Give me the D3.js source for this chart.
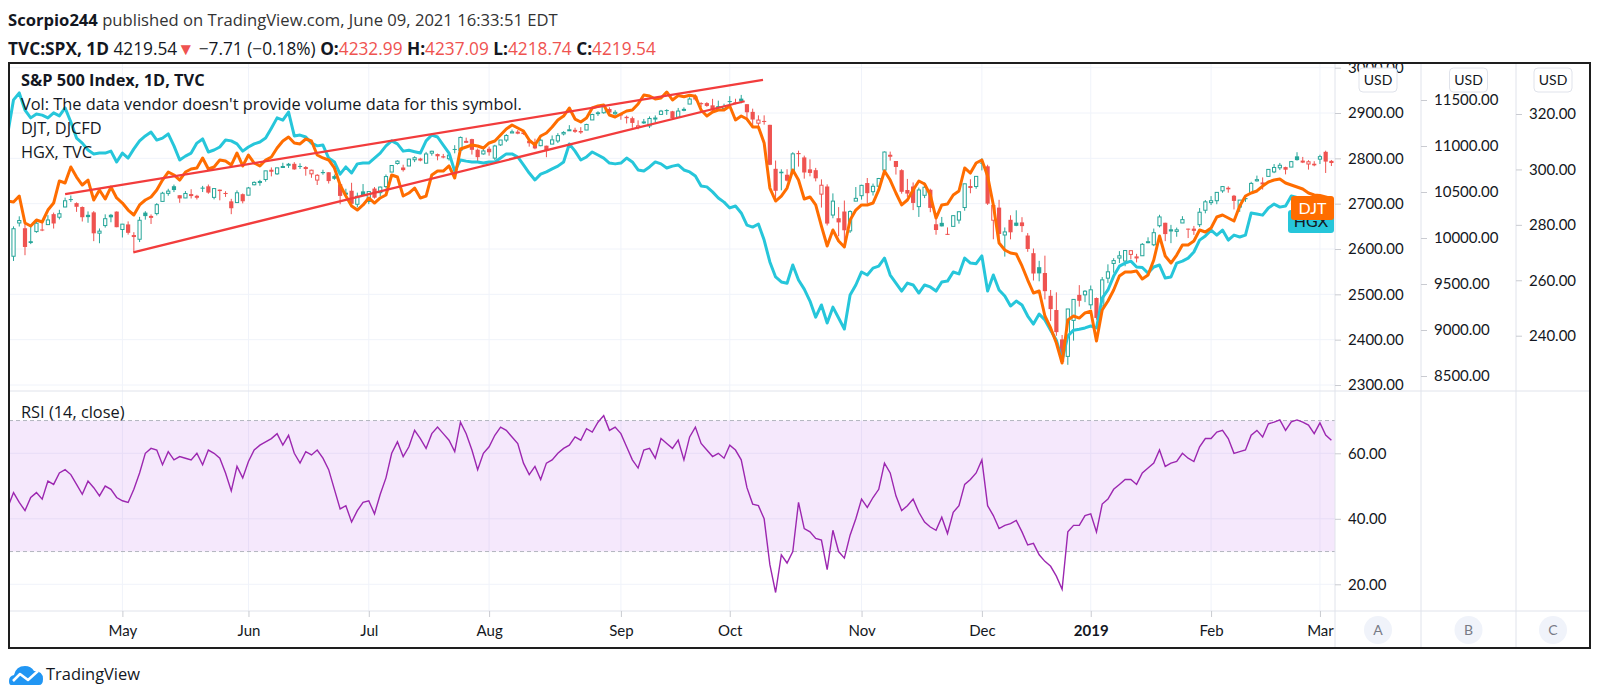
<!DOCTYPE html>
<html>
<head>
<meta charset="utf-8">
<script src="https://cdn.jsdelivr.net/npm/d3@7"></script>
<style>
	html, body { margin: 0; padding: 0; background: #fff; }
	svg { display: block; font-family: Lato, 'Open Sans', sans-serif; }
</style>
</head>
<body>
<svg id="chart" width="1600" height="699"></svg>
<script>
// trading calendar: Apr 3 2018 .. Mar 5 2019, weekdays minus market holidays
const firstDay = '2018-04-03';
const lastDay = '2019-03-05';
const holidays = ['2018-05-28', '2018-07-04', '2018-09-03', '2018-11-22', '2018-12-05', '2018-12-25', '2019-01-01', '2019-01-21', '2019-02-18'];

// S&P 500 daily candles (one value per trading day)
const spxOpen = [
	2592.2,2584.0,2657.4,2645.8,2617.2,2638.4,2643.0,2653.8,2676.9,2670.1,2692.7,2710.1,2701.2,2692.6,2675.4,2680.8,2634.9,2651.7,2675.5,2682.5,
	2643.0,2654.2,2628.1,2621.5,2680.3,2670.3,2678.1,2705.0,2722.7,2738.5,2718.6,2712.6,2719.7,2717.4,2735.4,2738.3,2713.9,2730.9,2723.6,2705.1,2702.4,2720.9,
	2718.7,2741.7,2748.5,2753.3,2774.8,2765.8,2780.2,2785.6,2787.9,2783.2,2777.8,2765.8,2752.0,2769.7,2769.3,2760.8,2742.9,2722.1,2728.5,2698.7,2727.1,
	2704.9,2733.3,2724.2,2737.7,2769.7,2788.6,2779.8,2783.1,2796.9,2797.4,2789.3,2811.4,2809.4,2804.6,2799.2,2820.7,2817.7,2835.5,2842.4,2819.0,2809.7,
	2821.2,2800.5,2829.6,2840.3,2855.9,2856.8,2857.2,2838.9,2835.5,2827.9,2827.9,2831.4,2838.3,2853.9,2861.5,2860.0,2860.3,2862.4,2884.7,2901.5,2900.6,2908.9,2898.4,
	2896.9,2891.6,2888.6,2868.3,2881.4,2871.6,2888.3,2896.9,2906.4,2903.8,2890.7,2906.6,2919.7,2936.8,2921.8,2921.8,2916.9,2911.7,2910.0,
	2926.3,2923.8,2931.7,2919.4,2902.5,2877.5,2882.5,2873.9,2776.9,2770.5,2763.8,2767.1,2811.7,2802.0,2775.7,2773.9,2721.0,2737.9,2674.9,2667.9,2682.7,2640.0,2705.6,
	2717.6,2745.5,2726.4,2738.4,2774.1,2806.4,2794.1,2773.9,2730.1,2737.9,2693.5,2718.5,2730.7,2654.6,2657.7,2633.4,2649.9,2663.8,2691.5,2736.8,2737.8,
	2790.5,2782.4,2663.5,2691.3,2630.9,2664.4,2658.2,2658.7,2629.7,2590.8,2559.9,2547.1,2496.8,2465.4,2400.6,2363.1,2442.5,2498.8,2498.9,
	2476.9,2491.9,2474.3,2535.6,2568.1,2580.0,2573.5,2588.1,2580.3,2585.1,2614.8,2609.3,2651.3,2657.9,2643.5,2638.8,2657.4,2644.9,2644.9,2653.6,2685.5,
	2702.3,2706.5,2728.3,2735.1,2717.5,2692.4,2712.4,2722.6,2750.3,2743.5,2760.2,2770.0,2779.1,2780.7,2780.7,2804.4,2792.4,2787.5,2788.1,
	2798.2,2814.4,2794.4
];
const spxHigh = [
	2619.1,2649.9,2672.1,2656.9,2653.6,2665.5,2661.4,2674.7,2680.3,2686.5,2713.3,2718.0,2702.8,2693.9,2682.9,2683.6,2645.3,2676.5,2677.4,2682.9,
	2655.3,2660.9,2637.1,2670.9,2683.4,2676.3,2701.3,2726.1,2732.9,2742.1,2718.6,2727.8,2731.9,2719.5,2739.2,2742.2,2733.3,2731.0,2727.4,2710.7,2729.3,2722.5,
	2736.9,2749.2,2752.6,2772.4,2779.9,2779.4,2790.2,2789.8,2791.5,2789.1,2782.8,2774.9,2765.1,2774.9,2769.3,2764.2,2742.9,2732.9,2746.1,2724.3,2743.3,
	2727.3,2736.6,2737.8,2764.4,2784.6,2795.6,2785.9,2799.2,2804.5,2801.2,2814.2,2816.8,2810.5,2809.7,2808.6,2829.0,2848.0,2845.6,2843.2,2821.7,2824.5,
	2825.8,2829.9,2840.4,2853.3,2863.4,2862.4,2862.5,2842.2,2843.4,2843.1,2827.9,2850.5,2855.6,2859.8,2873.2,2867.5,2868.8,2876.2,2898.3,2903.8,2916.5,2912.5,2906.3,
	2900.2,2894.2,2892.1,2883.8,2886.9,2892.5,2894.7,2906.8,2908.3,2904.7,2911.2,2912.4,2934.8,2940.9,2923.8,2923.9,2931.2,2927.2,2920.5,
	2937.1,2931.4,2939.9,2919.8,2909.6,2894.8,2894.8,2874.0,2795.1,2775.8,2775.9,2813.5,2816.9,2806.0,2797.8,2778.9,2753.6,2742.6,2722.7,2692.4,2706.9,2685.4,2736.7,
	2741.7,2756.6,2744.3,2756.8,2815.2,2814.8,2794.1,2775.9,2754.6,2746.8,2735.4,2746.8,2733.2,2669.4,2670.7,2647.6,2674.4,2682.5,2744.0,2753.8,2760.9,
	2800.2,2785.9,2696.1,2708.5,2647.5,2674.4,2685.4,2670.2,2635.1,2601.1,2573.9,2585.3,2509.6,2504.4,2410.3,2467.8,2489.1,2520.3,2509.2,
	2519.5,2493.1,2538.1,2566.2,2579.8,2595.3,2597.8,2596.3,2589.3,2613.1,2625.8,2645.1,2675.5,2657.9,2653.2,2647.2,2672.4,2644.9,2650.9,2690.4,2708.0,
	2716.7,2725.0,2739.0,2738.1,2719.3,2708.1,2718.1,2748.2,2761.9,2757.9,2775.7,2787.3,2789.9,2781.6,2794.2,2813.5,2803.1,2795.8,2793.7,
	2808.0,2816.9,2796.4
];
const spxLow = [
	2573.3,2573.6,2649.6,2586.3,2610.8,2635.8,2639.3,2653.8,2645.1,2665.2,2692.1,2703.6,2681.9,2660.6,2657.9,2617.3,2612.7,2647.2,2659.0,2648.0,
	2625.4,2631.7,2594.6,2615.3,2664.7,2655.2,2674.1,2704.5,2717.5,2725.5,2701.9,2712.2,2711.4,2709.2,2725.7,2721.9,2709.5,2707.4,2714.9,2676.8,2702.4,2700.7,
	2718.7,2740.5,2739.5,2748.5,2760.2,2763.6,2779.9,2778.8,2774.7,2776.5,2761.7,2757.1,2741.2,2763.9,2744.4,2752.7,2698.7,2715.6,2699.4,2691.9,2718.0,
	2698.9,2711.2,2716.0,2733.5,2769.7,2786.2,2770.8,2783.1,2791.7,2793.4,2789.2,2805.9,2795.6,2800.0,2795.1,2811.1,2817.0,2833.7,2808.3,2791.5,2808.1,
	2805.9,2796.3,2827.4,2835.9,2855.9,2853.1,2851.9,2825.8,2819.9,2826.6,2802.5,2831.4,2833.7,2850.6,2861.3,2856.1,2854.0,2862.4,2884.7,2893.5,2898.4,2895.2,2895.8,
	2885.1,2876.9,2867.3,2864.1,2875.9,2866.8,2879.2,2896.4,2895.8,2886.2,2890.4,2903.8,2919.7,2927.1,2912.6,2913.7,2903.3,2909.3,2907.5,
	2917.9,2919.4,2921.4,2883.9,2869.3,2862.0,2874.3,2784.9,2710.5,2729.4,2749.0,2766.9,2781.8,2755.2,2760.3,2749.2,2691.4,2651.9,2667.8,2628.2,2603.5,2635.3,2705.6,
	2708.9,2700.4,2717.9,2737.1,2774.1,2794.9,2764.2,2722.0,2714.9,2685.8,2670.7,2712.2,2681.1,2631.5,2649.8,2631.1,2649.9,2655.9,2684.4,2722.9,2732.8,
	2773.4,2697.2,2621.5,2623.1,2583.2,2621.3,2650.3,2637.3,2593.8,2530.5,2528.7,2488.9,2441.2,2408.6,2346.6,2344.5,2397.9,2472.9,2482.8,
	2467.5,2443.9,2474.3,2524.6,2547.6,2568.9,2562.0,2577.4,2570.4,2585.1,2612.7,2606.4,2647.6,2617.3,2612.9,2627.0,2657.3,2624.1,2631.1,2648.3,2678.7,
	2696.9,2698.8,2724.0,2724.2,2687.3,2681.8,2703.9,2722.6,2748.6,2731.2,2760.2,2767.3,2774.1,2764.6,2780.7,2795.0,2789.5,2775.1,2782.5,
	2787.4,2767.7,2783.0
];
const spxClose = [
	2614.5,2644.7,2662.8,2604.5,2613.2,2656.9,2642.2,2664.0,2656.3,2677.8,2706.4,2708.6,2693.1,2670.1,2670.3,2634.6,2639.4,2666.9,2669.9,2648.1,
	2654.8,2635.7,2629.7,2663.4,2672.6,2671.9,2697.8,2723.1,2727.7,2730.1,2711.5,2722.5,2720.1,2713.0,2733.0,2724.4,2733.3,2727.8,2721.3,2689.9,2724.0,2705.3,
	2734.6,2746.9,2748.8,2772.4,2770.4,2779.0,2782.0,2786.9,2775.6,2782.5,2779.7,2773.8,2762.6,2767.3,2749.8,2754.9,2717.1,2723.1,2699.6,2716.3,2718.4,
	2726.7,2713.2,2736.6,2759.8,2784.2,2793.8,2774.0,2798.3,2801.3,2798.4,2809.6,2815.6,2804.5,2801.8,2807.0,2820.4,2846.1,2837.4,2818.8,2802.6,2816.3,
	2813.4,2827.2,2840.4,2850.4,2858.5,2857.7,2853.6,2833.3,2821.9,2840.0,2818.4,2840.7,2850.1,2857.1,2863.0,2861.8,2857.0,2874.7,2896.7,2897.5,2914.0,2901.1,2901.5,
	2896.7,2888.6,2878.1,2871.7,2877.1,2887.9,2888.9,2904.2,2905.0,2888.8,2904.3,2908.0,2930.8,2929.7,2919.4,2915.6,2906.0,2914.0,2914.0,
	2924.6,2923.4,2925.5,2901.6,2885.6,2884.4,2880.3,2785.7,2728.4,2767.1,2750.8,2809.9,2809.2,2768.8,2767.8,2755.9,2740.7,2656.1,2705.6,2658.7,2641.3,2682.6,2711.7,
	2740.4,2723.1,2738.3,2755.5,2813.9,2806.8,2781.0,2726.2,2722.2,2701.6,2730.2,2736.3,2690.7,2641.9,2649.9,2632.6,2673.5,2682.2,2743.8,2737.8,2760.2,
	2790.4,2700.1,2696.0,2633.1,2637.7,2636.8,2651.1,2650.5,2600.0,2545.9,2546.2,2507.0,2467.4,2416.6,2351.1,2467.7,2488.8,2485.7,2506.9,
	2510.0,2447.9,2531.9,2549.7,2574.4,2585.0,2596.6,2596.3,2582.6,2610.3,2616.1,2636.0,2670.7,2632.9,2638.7,2642.3,2664.8,2643.9,2640.0,2681.1,2704.1,
	2706.5,2724.9,2737.7,2731.6,2706.1,2707.9,2709.8,2744.7,2753.0,2745.7,2775.6,2779.8,2784.7,2774.9,2792.7,2796.1,2793.9,2792.4,2784.5,
	2803.7,2792.8,2789.7
];

// Dow Jones Transportation (DJT) compare line
const djtValues = [
	10402,10391,10456,10163,10130,10196,10174,10304,10380,10620,
	10598,10772,10663,10576,10630,10413,10522,10424,10554,10435,
	10380,10304,10250,10359,10413,10446,10522,10630,10717,10685,
	10630,10717,10750,10761,10870,10750,10772,10848,10837,10793,
	10924,10783,10902,10815,10783,10848,10880,10978,11054,11098,
	11033,11022,11076,11054,10902,10870,10848,10761,10576,10456,
	10348,10304,10359,10435,10380,10435,10467,10685,10663,10456,
	10489,10543,10435,10456,10685,10728,10728,10783,10652,10967,
	10989,11011,11000,10978,11033,11054,11120,11185,11228,11196,
	11163,11065,11011,11109,11141,11207,11283,11326,11413,11293,
	11261,11304,11413,11435,11446,11337,11315,11348,11380,11391,
	11457,11554,11543,11511,11522,11587,11500,11548,11536,11551,
	11540,11391,11326,11370,11391,11391,11435,11283,11326,11293,
	11207,11207,11033,10543,10402,10456,10543,10739,10630,10424,
	10446,10359,10130,9913,10087,9967,9902,10196,10304,10359,
	10359,10380,10522,10728,10630,10489,10359,10413,10522,10620,
	10587,10467,10217,10359,10370,10467,10511,10761,10706,10815,
	10848,10674,10359,9946,9870,9837,9826,9696,9543,9402,
	9424,9152,9022,8859,8641,9109,9152,9130,9185,9206,
	8880,9217,9315,9435,9587,9630,9630,9641,9554,9598,
	9761,10022,9804,9728,9815,9924,9924,9967,10087,10065,
	10109,10228,10250,10217,10185,10348,10456,10489,10511,10565,
	10609,10630,10641,10598,10576,10554,10533,10489,10467,10462,
	10447,10431
];

// PHLX Housing (HGX) compare line
const hgxValues = [
	313.1,325.1,327.6,321.4,318.6,320.0,319.6,318.6,320.4,319.3,
	322.2,317.1,311.3,309.5,307.0,305.6,305.9,305.9,306.6,302.7,
	305.9,304.1,307.4,310.3,312.1,313.5,310.6,311.3,312.8,308.5,
	303.4,304.8,305.9,309.5,311.0,306.3,307.0,308.1,310.6,310.3,
	309.2,306.6,308.1,309.2,309.9,311.3,314.9,318.6,317.8,320.7,
	312.1,312.4,311.7,309.5,308.5,308.8,304.1,302.7,298.3,300.9,
	298.7,302.0,302.3,302.3,304.1,305.9,308.5,310.3,309.2,306.6,
	306.9,306.4,305.9,310.3,312.4,311.7,308.8,305.9,299.4,303.4,
	303.0,302.7,302.7,302.3,302.7,302.7,304.1,305.6,305.6,304.5,
	301.6,298.7,296.2,298.3,299.1,300.2,301.2,302.7,309.2,306.6,
	303.4,304.5,306.3,305.2,304.1,302.3,302.0,302.3,304.1,302.7,
	299.8,299.4,300.9,302.7,302.0,300.5,301.2,301.6,299.8,299.1,
	297.6,294.0,293.7,291.9,289.7,288.2,286.1,286.8,284.3,279.9,
	279.2,280.3,274.5,266.6,261.2,259.4,258.9,265.5,260.1,256.8,
	252.5,246.7,251.1,244.6,250.3,246.4,242.4,254.7,258.3,263.0,
	261.9,264.4,265.1,268.0,261.9,259.0,256.1,259.0,258.3,255.4,
	258.3,257.6,256.1,259.4,259.7,263.0,262.3,268.0,266.2,266.0,
	268.8,256.1,261.9,256.5,254.3,250.7,252.5,251.1,247.1,244.2,
	247.8,245.7,242.0,238.4,231.2,239.9,242.0,242.3,242.8,243.5,
	242.8,253.6,256.5,261.5,265.1,266.2,266.9,264.8,264.6,262.6,
	264.8,265.5,260.8,261.2,266.2,266.9,268.0,270.2,274.5,276.0,
	278.1,276.3,278.1,274.5,276.3,275.6,276.3,284.3,283.9,283.5,
	286.1,287.5,286.4,286.8,290.4,289.9,289.4,289.6,289.1,288.8,
	288.6,288.4
];

// RSI (14, close)
const rsiValues = [
	43.5,48,45,42.5,46.5,48,46,51.5,50.5,54,
	55,53.5,50.5,47.5,51.5,49.5,47,50,49,46.5,
	45.5,45,49,54,60,61.5,61,56.5,60.5,58,
	59,58.5,58,60,56.5,61,60,58.5,54,48.5,
	56,52.5,57.5,61,62.5,63.5,64.5,66,62.5,65.5,
	60,57,60.5,59.5,61,58.5,55,49,43,44,
	39,42.5,45,45.5,41.5,47.5,52.5,60,63.5,59,
	62,67,64.5,61.5,66,68,66,64,60.5,69.5,
	66,61,55,60,62,65.5,68,67,65,63,
	57,53.5,56,52,57,58,60,61.5,62.5,65,
	64,67.5,66.5,69.5,71.5,67,68,66,62,58,
	55.5,61,61.5,58.5,64.5,63,61.5,64,58,65,
	68,63,61,59,60,58.5,62.5,61,58,49.5,
	44.5,44,40,26,17.5,29,26.5,30,45,37,
	36,34,33.5,24.5,36.5,30,28,35,40,46,
	43.5,46.5,49,57,54,47,42.5,44,46,42,
	39,37.5,36.5,40.5,35.5,42,44,50.5,52,54,
	58,44,41,37,38,38.5,39.5,36,32,32.5,
	29,27,25.5,22.5,18.5,36,38,38,41,41.5,
	36,44.5,46,49,50.5,52,52,50.5,54,55.5,
	57,61,56,57,57.5,60,58.5,57.5,62,64.5,
	64.5,66.5,67,64.5,60,60.5,61,65.5,67,65,
	69,69.5,70.2,67,69.6,70.2,69.5,68.6,66,69.3,
	65.6,64
];

// rising wedge drawings: [bar index, price]
const wedgeUpper = [[10, 2721], [131.8, 2973]];
const wedgeLower = [[21.9, 2592.7], [128.6, 2925.8]];

// axis ticks
const spxTicks = [2300, 2400, 2500, 2600, 2700, 2800, 2900, 3000];
const djtTicks = [8500, 9000, 9500, 10000, 10500, 11000, 11500];
const hgxTicks = [240, 260, 280, 300, 320];
const rsiTicks = [20, 40, 60];
const monthStarts = ['2018-05-01', '2018-06-01', '2018-07-02', '2018-08-01', '2018-09-04', '2018-10-01', '2018-11-01', '2018-12-03', '2019-01-02', '2019-02-01', '2019-03-01'];
const monthLabels = ['May', 'Jun', 'Jul', 'Aug', 'Sep', 'Oct', 'Nov', 'Dec', '2019', 'Feb', 'Mar'];
const scaleButtons = ['A', 'B', 'C'];

const dates = d3.utcDay
	.range(new Date(firstDay), d3.utcDay.offset(new Date(lastDay), 1))
	.filter((d) => d.getUTCDay() % 6 !== 0)
	.map((d) => d.toISOString().slice(0, 10))
	.filter((s) => !holidays.includes(s));

// layout
const frameL = 9, frameT = 63, frameR = 1590, frameB = 648;
const paneR = 1335, djtR = 1421, hgxR = 1516;
const mainB = 391, rsiB = 611;
const textColor = '#131722';
const gridColor = '#f0f3fa';
const sepColor = '#e0e3eb';
const upColor = '#26a69a';
const downColor = '#ef5350';
const labelFont = "'Open Sans', sans-serif";

const svg = d3.select('#chart');
svg.append('rect').attr('width', 1600).attr('height', 699).attr('fill', '#fff');

const x = d3.scaleLinear().domain([0, dates.length - 1]).range([7.8, 1331.4]);
const ySpx = d3.scaleLinear().domain([2300, 2900]).range([385, 113]);
const yDjt = d3.scaleLinear().domain([8500, 11500]).range([376, 100]);
const yHgx = d3.scaleLinear().domain([240, 320]).range([335.7, 114]);
const yRsi = d3.scaleLinear().domain([20, 60]).range([584.3, 453.3]);

// shrink/grow a text so it spans the width seen in the picture
function fitWidth(sel, target) {
	const w = sel.node().getComputedTextLength();
	const fs = parseFloat(sel.attr('font-size'));
	if (w > 0) sel.attr('font-size', ((fs * target) / w).toFixed(2));
	return sel;
}

const defs = svg.append('defs');
defs.append('clipPath').attr('id', 'clip-main')
	.append('rect').attr('x', frameL).attr('y', frameT).attr('width', paneR - frameL).attr('height', mainB - frameT);
defs.append('clipPath').attr('id', 'clip-rsi')
	.append('rect').attr('x', frameL).attr('y', mainB).attr('width', paneR - frameL).attr('height', rsiB - mainB);
defs.append('clipPath').attr('id', 'clip-frame')
	.append('rect').attr('x', frameL).attr('y', frameT).attr('width', frameR - frameL).attr('height', frameB - frameT);

const monthIdx = monthStarts.map((m) => dates.indexOf(m));

// grid lines
const grid = svg.append('g').attr('stroke', gridColor).attr('stroke-width', 1);
grid.selectAll('.hg').data(spxTicks).join('line')
	.attr('x1', frameL).attr('x2', paneR)
	.attr('y1', (d) => ySpx(d)).attr('y2', (d) => ySpx(d));
grid.selectAll('.rg').data(rsiTicks).join('line')
	.attr('x1', frameL).attr('x2', paneR)
	.attr('y1', (d) => yRsi(d)).attr('y2', (d) => yRsi(d));
grid.selectAll('.vg').data(monthIdx).join('line')
	.attr('x1', (d) => x(d)).attr('x2', (d) => x(d))
	.attr('y1', frameT).attr('y2', rsiB);

// RSI band
const rsiPane = svg.append('g').attr('clip-path', 'url(#clip-rsi)');
rsiPane.append('rect')
	.attr('x', frameL).attr('width', paneR - frameL)
	.attr('y', yRsi(70)).attr('height', yRsi(30) - yRsi(70))
	.attr('fill', 'rgba(180, 80, 230, 0.13)');
rsiPane.selectAll('.band').data([70, 30]).join('line')
	.attr('x1', frameL).attr('x2', paneR)
	.attr('y1', (d) => yRsi(d)).attr('y2', (d) => yRsi(d))
	.attr('stroke', '#b2b5be').attr('stroke-dasharray', '4,3');

// candles (hollow style)
const bars = spxClose.map((c, i) => ({
	i,
	o: spxOpen[i],
	h: spxHigh[i],
	l: spxLow[i],
	c,
	prev: i > 0 ? spxClose[i - 1] : spxOpen[i],
}));
const colorOf = (d) => (d.c >= d.prev ? upColor : downColor);

const mainPane = svg.append('g').attr('clip-path', 'url(#clip-main)');
const candles = mainPane.append('g');
candles.selectAll('line').data(bars).join('line')
	.attr('x1', (d) => x(d.i)).attr('x2', (d) => x(d.i))
	.attr('y1', (d) => ySpx(d.h)).attr('y2', (d) => ySpx(d.l))
	.attr('stroke', colorOf).attr('stroke-width', 1);
candles.selectAll('rect').data(bars).join('rect')
	.attr('x', (d) => x(d.i) - (d.c >= d.o ? 1.6 : 2.1))
	.attr('width', (d) => (d.c >= d.o ? 3.2 : 4.2))
	.attr('y', (d) => ySpx(Math.max(d.o, d.c)))
	.attr('height', (d) => Math.max(1, Math.abs(ySpx(d.o) - ySpx(d.c))))
	.attr('fill', (d) => (d.c >= d.o ? '#fff' : colorOf(d)))
	.attr('stroke', (d) => (d.c >= d.o ? colorOf(d) : 'none'))
	.attr('stroke-width', 1);

// compare lines
mainPane.append('path')
	.datum(hgxValues)
	.attr('fill', 'none').attr('stroke', '#26c6da').attr('stroke-width', 3)
	.attr('stroke-linejoin', 'round')
	.attr('d', d3.line().x((d, i) => x(i)).y((d) => yHgx(d)));
mainPane.append('path')
	.datum(djtValues)
	.attr('fill', 'none').attr('stroke', '#ff6d00').attr('stroke-width', 3)
	.attr('stroke-linejoin', 'round')
	.attr('d', d3.line().x((d, i) => x(i)).y((d) => yDjt(d)));

// wedge trend lines
mainPane.selectAll('.wedge').data([wedgeUpper, wedgeLower]).join('path')
	.attr('fill', 'none').attr('stroke', '#f23c3c').attr('stroke-width', 2.2)
	.attr('d', d3.line().x((d) => x(d[0])).y((d) => ySpx(d[1])));

// RSI line
rsiPane.append('path')
	.datum(rsiValues)
	.attr('fill', 'none').attr('stroke', '#9c27b0').attr('stroke-width', 1.4)
	.attr('d', d3.line().x((d, i) => x(i)).y((d) => yRsi(d)));

// legend texts
const legend = svg.append('g').attr('fill', textColor).style('font-family', labelFont);
const volLine = legend.append('text').attr('x', 21).attr('y', 110).attr('font-size', 16)
	.text("Vol: The data vendor doesn't provide volume data for this symbol.");
fitWidth(volLine, 501);
const legendSize = volLine.attr('font-size');
legend.append('text').attr('x', 21).attr('y', 86).attr('font-size', legendSize).attr('font-weight', 'bold').text('S&P 500 Index, 1D, TVC');
legend.append('text').attr('x', 21).attr('y', 134).attr('font-size', legendSize).text('DJT, DJCFD');
legend.append('text').attr('x', 21).attr('y', 158).attr('font-size', legendSize).text('HGX, TVC');
legend.append('text').attr('x', 21).attr('y', 418).attr('font-size', legendSize).text('RSI (14, close)');

// series end labels
const tags = svg.append('g').attr('font-size', 16);
const hgxTag = tags.append('g').attr('transform', 'translate(1288,210)');
hgxTag.append('rect').attr('width', 46).attr('height', 23).attr('rx', 3).attr('fill', '#26c6da');
hgxTag.append('text').attr('x', 23).attr('y', 17).attr('text-anchor', 'middle').attr('fill', textColor).text('HGX');
const djtTag = tags.append('g').attr('transform', 'translate(1291,196)');
djtTag.append('rect').attr('width', 43).attr('height', 24).attr('rx', 3).attr('fill', '#ff6d00');
djtTag.append('text').attr('x', 21.5).attr('y', 18).attr('text-anchor', 'middle').attr('fill', '#fff').text('DJT');

// separators
const seps = svg.append('g').attr('stroke', sepColor).attr('stroke-width', 1);
[mainB, rsiB].forEach((y) => seps.append('line').attr('x1', frameL).attr('x2', frameR).attr('y1', y).attr('y2', y));
[paneR, djtR, hgxR].forEach((xx) => seps.append('line').attr('x1', xx).attr('x2', xx).attr('y1', frameT).attr('y2', frameB));

// price axes
const axesG = svg.append('g').attr('clip-path', 'url(#clip-frame)');
function styleAxis(g) {
	g.select('.domain').remove();
	g.selectAll('.tick line').attr('stroke', '#c9cbd1');
	g.selectAll('.tick text').attr('fill', textColor).style('font-family', 'Lato, sans-serif').style('font-size', '15px');
}
axesG.append('g').attr('transform', `translate(${paneR},0)`)
	.call(d3.axisRight(ySpx).tickValues(spxTicks).tickFormat(d3.format('.2f')).tickSize(6).tickPadding(7))
	.call(styleAxis);
axesG.append('g').attr('transform', `translate(${djtR},0)`)
	.call(d3.axisRight(yDjt).tickValues(djtTicks).tickFormat(d3.format('.2f')).tickSize(6).tickPadding(7))
	.call(styleAxis);
axesG.append('g').attr('transform', `translate(${hgxR},0)`)
	.call(d3.axisRight(yHgx).tickValues(hgxTicks).tickFormat(d3.format('.2f')).tickSize(6).tickPadding(7))
	.call(styleAxis);
axesG.append('g').attr('transform', `translate(${paneR},0)`)
	.call(d3.axisRight(yRsi).tickValues(rsiTicks).tickFormat(d3.format('.2f')).tickSize(6).tickPadding(7))
	.call(styleAxis);

// time axis
axesG.append('g').attr('transform', `translate(0,${rsiB})`)
	.call(d3.axisBottom(x).tickValues(monthIdx).tickFormat((d, i) => monthLabels[i]).tickSize(6).tickPadding(8))
	.call(styleAxis)
	.call((g) => g.selectAll('.tick text').filter((d, i) => monthLabels[i] === '2019').attr('font-weight', 'bold'));

// currency boxes
const usdCenters = [(paneR + djtR) / 2, (djtR + hgxR) / 2, (hgxR + frameR) / 2];
const usd = svg.append('g').selectAll('g').data(usdCenters).join('g')
	.attr('transform', (d) => `translate(${d},80)`);
usd.append('rect').attr('x', -19).attr('y', -12).attr('width', 38).attr('height', 24).attr('rx', 4)
	.attr('fill', '#fff').attr('stroke', sepColor);
usd.append('text').attr('text-anchor', 'middle').attr('y', 5).attr('font-size', 14).attr('fill', textColor).text('USD');

// scale buttons
const btn = svg.append('g').selectAll('g').data(scaleButtons).join('g')
	.attr('transform', (d, i) => `translate(${usdCenters[i]},630)`);
btn.append('circle').attr('r', 14).attr('fill', '#f0f3fa');
btn.append('text').attr('text-anchor', 'middle').attr('y', 5).attr('font-size', 14).attr('fill', '#787b86').text((d) => d);

// outer frame
svg.append('rect')
	.attr('x', frameL).attr('y', frameT).attr('width', frameR - frameL).attr('height', frameB - frameT)
	.attr('fill', 'none').attr('stroke', '#1e1e1e').attr('stroke-width', 2);

// header
const head = svg.append('g').attr('fill', textColor).style('font-family', labelFont);
const h1 = head.append('text').attr('x', 8).attr('y', 26).attr('font-size', 16);
h1.append('tspan').attr('font-weight', 'bold').text('Scorpio244');
h1.append('tspan').attr('fill', '#333').text(' published on TradingView.com, June 09, 2021 16:33:51 EDT');
fitWidth(h1, 550);
const h2 = head.append('text').attr('x', 8).attr('y', 55).attr('font-size', 16);
h2.append('tspan').attr('font-weight', 'bold').text('TVC:SPX, 1D');
h2.append('tspan').text(' 4219.54');
h2.append('tspan').attr('fill', downColor).text('▼');
h2.append('tspan').text(' −7.71 (−0.18%) ');
[['O:', '4232.99'], ['H:', '4237.09'], ['L:', '4218.74'], ['C:', '4219.54']].forEach(([k, v], i) => {
	h2.append('tspan').attr('font-weight', 'bold').text((i ? ' ' : '') + k);
	h2.append('tspan').attr('fill', downColor).text(v);
});
fitWidth(h2, 648);

// footer logo
const logo = svg.append('g').attr('transform', 'translate(9,663)');
logo.append('path')
	.attr('d', 'M2,22 Q0,22 0,18 Q0,13 5,12 Q7,3 16,3 Q22,3 25,8 Q34,8 34,16 Q34,22 30,22 Z')
	.attr('fill', '#2196f3');
logo.append('path')
	.attr('d', 'M4,18 L11,11 L19,17 L29,8')
	.attr('fill', 'none').attr('stroke', '#fff').attr('stroke-width', 2.5).attr('stroke-linejoin', 'round');
const brand = svg.append('text').attr('x', 46).attr('y', 680).attr('font-size', 16).attr('fill', textColor)
	.style('font-family', labelFont).text('TradingView');
fitWidth(brand, 94);
</script>
</body>
</html>
